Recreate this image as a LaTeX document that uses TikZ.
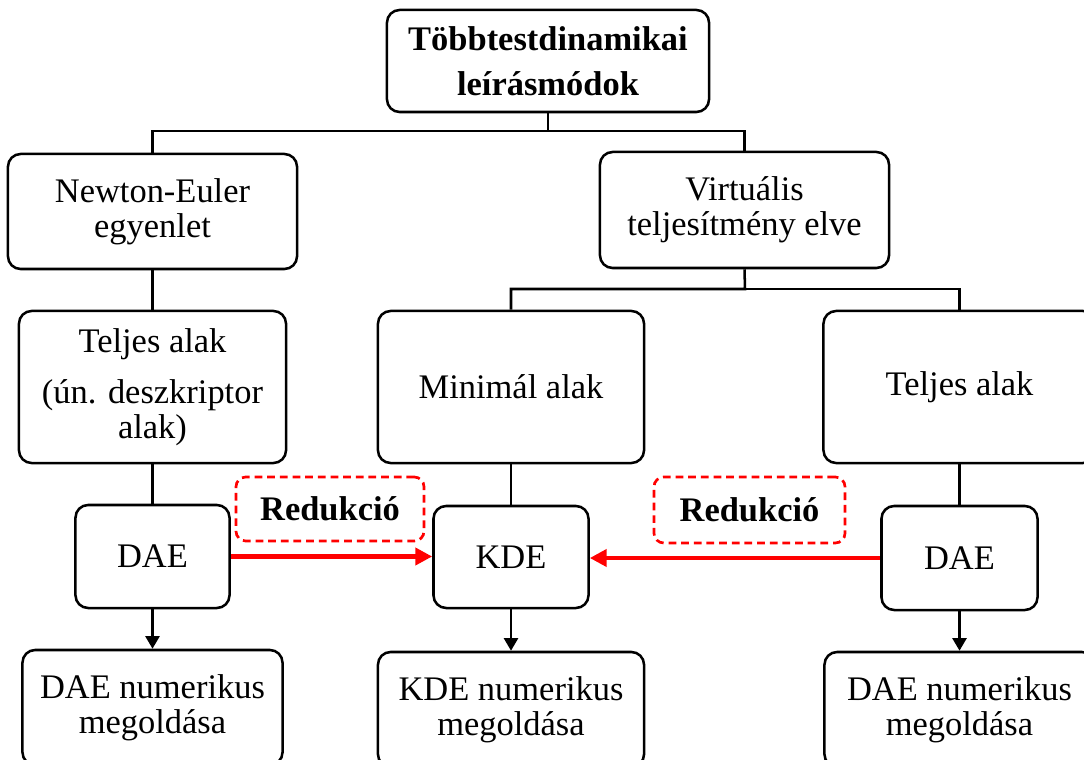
\documentclass[tikz,border=0pt]{standalone}
\usepackage{fontspec}
\setmainfont{Liberation Serif}
\usetikzlibrary{arrows.meta}

\begin{document}
\begin{tikzpicture}[x=0.025cm, y=-0.025cm,
	box/.style={draw, line width=1.8pt, rounded corners=9pt, align=center, inner sep=0pt, font=\fontsize{24.5}{25}\selectfont},
	redbox/.style={draw=red, dash pattern=on 5.5pt off 3.5pt, line width=1.9pt, rounded corners=7pt, inner sep=0pt, font=\bfseries\fontsize{24.5}{25}\selectfont},
	link/.style={line width=1.8pt},
	redlink/.style={draw=red, line width=3.4pt, -{Triangle[length=12pt,width=12pt]}}]
	\useasboundingbox (0,0) rectangle (1084,760);
	% first level
	\node[box, minimum width=8.05cm, minimum height=2.55cm, font=\bfseries\fontsize{24.5}{25}\selectfont] (top) at (548,61) {Többtestdinamikai\\[7pt]leírásmódok};
	\node[box, minimum width=7.225cm, minimum height=2.875cm] (ne) at (152.5,211.5) {Newton-Euler\\egyenlet};
	\node[box, minimum width=7.225cm, minimum height=2.9cm] (virt) at (744.5,210) {Virtuális\\teljesítmény elve};
	% forms
	\node[box, minimum width=6.675cm, minimum height=3.8cm] (tl) at (152.5,387) {Teljes alak\\[11pt](ún. deszkriptor\\alak)};
	\node[box, minimum width=6.65cm, minimum height=3.8cm] (mini) at (511,387) {Minimál alak};
	\node[box, minimum width=6.8cm, minimum height=3.8cm] (tr) at (959.5,387) {Teljes alak};
	% equations
	\node[box, minimum width=3.85cm, minimum height=2.575cm] (dael) at (152.5,556.5) {DAE};
	\node[box, minimum width=3.875cm, minimum height=2.55cm] (kde) at (511,557) {KDE};
	\node[box, minimum width=3.9cm, minimum height=2.6cm] (daer) at (959.5,558) {DAE};
	% solvers
	\node[box, minimum width=6.5cm, minimum height=2.875cm] (numl) at (152.5,707.5) {DAE numerikus\\megoldása};
	\node[box, minimum width=6.65cm, minimum height=2.875cm] (numm) at (511,709.5) {KDE numerikus\\megoldása};
	\node[box, minimum width=6.75cm, minimum height=2.875cm] (numr) at (959.5,709.5) {DAE numerikus\\megoldása};
	\node[redbox, minimum width=4.7cm, minimum height=1.6cm] (red1) at (330,509) {Redukció};
	\node[redbox, minimum width=4.775cm, minimum height=1.65cm] (red2) at (749.5,510) {Redukció};

	\coordinate (s1) at (548,131);
	\coordinate (s2) at (745,289);
	\draw[link] (top.south) -- (s1) -| (ne.north);
	\draw[link] (s1) -| (virt.north);
	\draw[link] (ne.south) -- (tl.north);
	\draw[link] (virt.south) -- (s2) -| (mini.north);
	\draw[link] (s2) -| (tr.north);
	\draw[link] (tl.south) -- (dael.north);
	\draw[link] (mini.south) -- (kde.north);
	\draw[link] (tr.south) -- (daer.north);
	\draw[link, -{Triangle[length=9pt,width=10pt]}] (dael.south) -- (numl.north);
	\draw[link, -{Triangle[length=9pt,width=10pt]}] (kde.south) -- (numm.north);
	\draw[link, -{Triangle[length=9pt,width=10pt]}] (daer.south) -- (numr.north);
	\draw[redlink] (dael.east) -- (dael.east -| kde.west);
	\draw[redlink] (daer.west) -- (daer.west -| kde.east);
\end{tikzpicture}
\end{document}
